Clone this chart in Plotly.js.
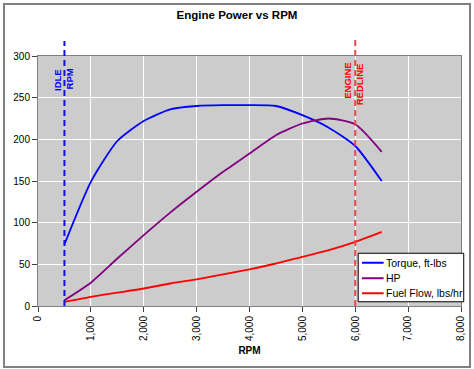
<!DOCTYPE html>
<html>
<head>
<meta charset="utf-8">
<script src="https://cdn.plot.ly/plotly-3.0.1.min.js"></script>
<style>
html,body{margin:0;padding:0;background:#fff;}
#wrap{position:relative;width:474px;height:369px;}
#chart{width:474px;height:369px;}
#frame{position:absolute;left:3px;top:3px;width:464px;height:361px;border:2px solid #808080;pointer-events:none;}
</style>
</head>
<body>
<div id="wrap"><div id="chart"></div><div id="frame"></div></div>
<script>
// Data
const rpm = [500, 1000, 1500, 2000, 2500, 3000, 3500, 4000, 4500, 5000, 5500, 6000, 6500];
const torque = [74, 149, 198, 222, 236, 240, 241, 241, 240, 229, 214, 192, 150];
const hp = [7, 28, 57, 85, 112, 137, 161, 183, 205, 219, 225, 218, 185];
const fuelFlow = [5, 11, 16, 21, 27, 32, 38, 44, 51, 59, 67, 77, 89];
const seriesNames = ["Torque, ft-lbs", "HP", "Fuel Flow, lbs/hr"];
const seriesColors = ["#0000FF", "#800080", "#FF0000"];
const idleRpm = 500;
const redlineRpm = 6000;
const yTicks = [0, 50, 100, 150, 200, 250, 300];
const xTicks = [0, 1000, 2000, 3000, 4000, 5000, 6000, 7000, 8000];

const font = "Arial, 'Liberation Sans', sans-serif";
const seriesY = [torque, hp, fuelFlow];

const traces = seriesY.map((ys, i) => ({
  x: rpm, y: ys, name: seriesNames[i], mode: "lines",
  line: {color: seriesColors[i], width: 1.8, shape: "spline", smoothing: 0.6}
}));

// Custom legend box (positions in paper coords), entries come from seriesNames/colors
const legRowsY = [0.173, 0.111, 0.051];
const legendShapes = [
  {type: "rect", xref: "paper", yref: "paper", x0: 0.757, x1: 1.0065, y0: 0.017, y1: 0.211,
   fillcolor: "#FFFFFF", line: {color: "#000", width: 1}, layer: "above"}
].concat(seriesNames.map((n, i) => ({
  type: "line", xref: "paper", yref: "paper", x0: 0.766, x1: 0.817, y0: legRowsY[i], y1: legRowsY[i],
  line: {color: seriesColors[i], width: 2}, layer: "above"
})));
const legendAnn = seriesNames.map((n, i) => ({
  text: n, xref: "paper", yref: "paper", x: 0.818, y: legRowsY[i], xanchor: "left", yanchor: "middle",
  showarrow: false, font: {family: font, size: 10.5, color: "#000"}
}));

const layout = {
  width: 474, height: 369,
  margin: {l: 38, r: 13, t: 56, b: 63},
  paper_bgcolor: "#FFFFFF",
  plot_bgcolor: "#CCCCCC",
  font: {family: font, size: 10, color: "#000"},
  title: {text: "<b>Engine Power vs RPM</b>", font: {family: font, size: 11.5, color: "#000"}, x: 0.5, xanchor: "center", y: 0.96, yanchor: "middle"},
  showlegend: false,
  xaxis: {
    range: [0, 8000], tickvals: xTicks, tickformat: ",d", tickangle: -90,
    showgrid: true, gridcolor: "#FFFFFF", gridwidth: 1, zeroline: false,
    showline: true, linecolor: "#808080", linewidth: 1, mirror: true,
    ticks: "outside", ticklen: 5, tickcolor: "#404040",
    tickfont: {family: font, size: 10, color: "#000"},
    title: {text: "<b>RPM</b>", font: {family: font, size: 10, color: "#000"}, standoff: 6}
  },
  yaxis: {
    range: [0, 300], tickvals: yTicks,
    showgrid: true, gridcolor: "#FFFFFF", gridwidth: 1, zeroline: false,
    showline: true, linecolor: "#808080", linewidth: 1, mirror: true,
    ticks: "outside", ticklen: 5, tickcolor: "#404040",
    tickfont: {family: font, size: 10, color: "#000"}
  },
  shapes: [
    {type: "line", xref: "x", yref: "paper", x0: idleRpm, x1: idleRpm, y0: 0, y1: 1.06,
     line: {color: "#1010E0", width: 2, dash: "6px,4px"}},
    {type: "line", xref: "x", yref: "paper", x0: redlineRpm, x1: redlineRpm, y0: 0, y1: 1.072,
     line: {color: "#E84A50", width: 2, dash: "6px,4px"}}
  ].concat(legendShapes),
  annotations: [
    {text: "<b>IDLE</b>", xref: "x", yref: "paper", x: idleRpm, y: 0.958, xshift: -7, textangle: -90, showarrow: false,
     font: {family: font, size: 9.5, color: "#0000FF"}},
    {text: "<b>RPM</b>", xref: "x", yref: "paper", x: idleRpm, y: 0.958, xshift: 5, textangle: -90, showarrow: false,
     font: {family: font, size: 9.5, color: "#0000FF"}},
    {text: "<b>ENGINE</b>", xref: "x", yref: "paper", x: redlineRpm, y: 0.982, xshift: -8, textangle: -90, showarrow: false,
     font: {family: font, size: 9.5, color: "#FF0000"}},
    {text: "<b>REDLINE</b>", xref: "x", yref: "paper", x: redlineRpm, y: 0.98, xshift: 4, textangle: -90, showarrow: false,
     font: {family: font, size: 9.5, color: "#FF0000"}}
  ].concat(legendAnn)
};

Plotly.newPlot("chart", traces, layout, {displayModeBar: false, staticPlot: true});
</script>
</body>
</html>
